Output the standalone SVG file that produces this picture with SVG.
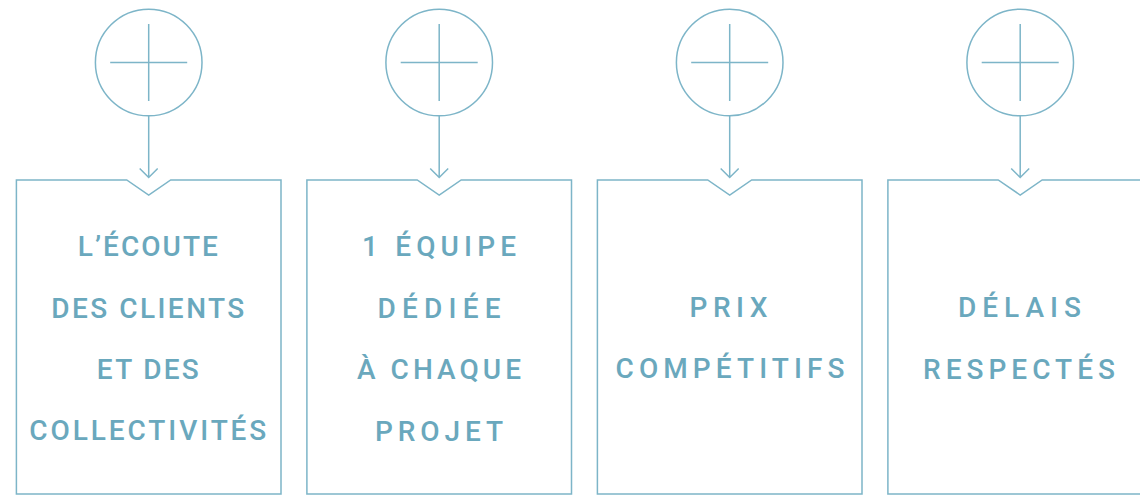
<svg xmlns="http://www.w3.org/2000/svg" width="1140" height="495" viewBox="0 0 1140 495">
<style>
.ln{fill:none;stroke:#7db5c8;stroke-width:1.5}
.t{font-family:Roboto,"Liberation Sans",sans-serif;font-weight:500;font-size:28px;fill:#6aa8bd;text-anchor:middle}
</style>
<rect width="1140" height="495" fill="#ffffff"/>
<g id="connectors">
<path class="ln" d="M148.7,116V177.5M139.7,168.5L148.7,177.5L157.7,168.5"/>
<path class="ln" d="M439.2,116V177.5M430.2,168.5L439.2,177.5L448.2,168.5"/>
<path class="ln" d="M729.7,116V177.5M720.7,168.5L729.7,177.5L738.7,168.5"/>
<path class="ln" d="M1020.2,116V177.5M1011.2,168.5L1020.2,177.5L1029.2,168.5"/>
</g>
<g id="plus1"><circle class="ln" cx="148.7" cy="62.5" r="53.3"/><path class="ln" d="M110.2,62.5H187.2M148.7,24V101"/></g>
<g id="plus2"><circle class="ln" cx="439.2" cy="62.5" r="53.3"/><path class="ln" d="M400.7,62.5H477.7M439.2,24V101"/></g>
<g id="plus3"><circle class="ln" cx="729.7" cy="62.5" r="53.3"/><path class="ln" d="M691.2,62.5H768.2M729.7,24V101"/></g>
<g id="plus4"><circle class="ln" cx="1020.2" cy="62.5" r="53.3"/><path class="ln" d="M981.7,62.5H1058.7M1020.2,24V101"/></g>
<g id="box1">
<path class="ln" d="M16.4,180H126.7L148.7,195L170.7,180H281V494H16.4Z"/>
<text class="t" x="147.8" y="256" textLength="140" lengthAdjust="spacing">L’ÉCOUTE</text>
<text class="t" x="147.8" y="318" textLength="193" lengthAdjust="spacing">DES CLIENTS</text>
<text class="t" x="147.8" y="379" textLength="102" lengthAdjust="spacing">ET DES</text>
<text class="t" x="147.8" y="440" textLength="237" lengthAdjust="spacing">COLLECTIVITÉS</text>
</g>
<g id="box2">
<path class="ln" d="M306.9,180H417.2L439.2,195L461.2,180H571.5V494H306.9Z"/>
<text class="t" x="439" y="256" textLength="154" lengthAdjust="spacing">1 ÉQUIPE</text>
<text class="t" x="439" y="318" textLength="123" lengthAdjust="spacing">DÉDIÉE</text>
<text class="t" x="439" y="379" textLength="164" lengthAdjust="spacing">À CHAQUE</text>
<text class="t" x="439" y="441" textLength="128" lengthAdjust="spacing">PROJET</text>
</g>
<g id="box3">
<path class="ln" d="M597.4,180H707.7L729.7,195L751.7,180H862V494H597.4Z"/>
<text class="t" x="728.5" y="317" textLength="78" lengthAdjust="spacing">PRIX</text>
<text class="t" x="730" y="378" textLength="229" lengthAdjust="spacing">COMPÉTITIFS</text>
</g>
<g id="box4">
<path class="ln" d="M887.9,180H998.2L1020.2,195L1042.2,180H1152.5V494H887.9Z"/>
<text class="t" x="1019.5" y="317" textLength="123" lengthAdjust="spacing">DÉLAIS</text>
<text class="t" x="1019" y="379" textLength="192" lengthAdjust="spacing">RESPECTÉS</text>
</g>
</svg>
